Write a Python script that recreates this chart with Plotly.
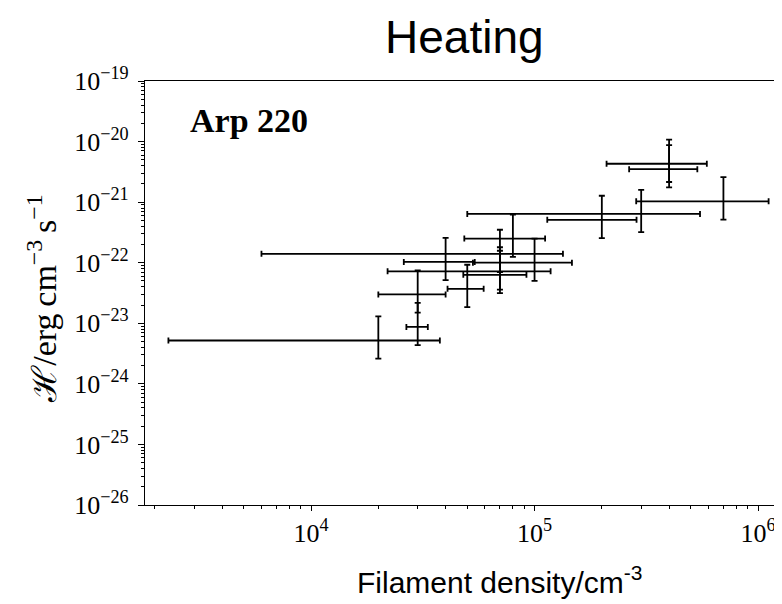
import plotly.graph_objects as go

# ---- data ----
density = [2e4, 3e4, 3e4, 4e4, 5e4, 7e4, 7e4, 7e4, 8e4, 1e5, 2e5, 3e5, 4e5, 4e5, 7e5]
heating = [5.2e-24, 3.0e-23, 8.7e-24, 1.03e-22, 3.7e-23, 1.4e-22, 7.2e-23, 6.3e-23,
           2.5e-22, 1.0e-22, 5.1e-22, 6.4e-22, 4.3e-21, 3.5e-21, 1.03e-21]
density_err = [1.77e4, 1.0e4, 3.3e3, 1.4e4, 9.2e3, 6.4e4, 4.8e4, 2.2e4, 3.15e4,
               4.7e4, 8.6e4, 2.5e5, 1.9e5, 1.35e5, 4.15e5]
heating_err_plus = [7.8e-24, 4.5e-23, 1.3e-23, 1.55e-22, 5.55e-23, 2.1e-22, 1.08e-22,
                    9.45e-23, 3.75e-22, 1.5e-22, 7.65e-22, 9.6e-22, 6.45e-21, 5.25e-21, 1.55e-21]
heating_err_minus = [2.6e-24, 1.5e-23, 4.35e-24, 5.15e-23, 1.85e-23, 7e-23, 3.6e-23,
                     3.15e-23, 1.25e-22, 5e-23, 2.55e-22, 3.2e-22, 2.15e-21, 1.75e-21, 5.15e-22]

x_tick_exp = [4, 5, 6]
y_tick_exp = [-26, -25, -24, -23, -22, -21, -20, -19]

title_text = "Heating"
x_title = "Filament density/cm<sup>-3</sup>"
y_title = "ℋ/erg\u2009cm<sup>−3</sup>\u2009s<sup>−1</sup>"
panel_label = "<b>Arp 220</b>"

# ---- figure ----
fig = go.Figure()
fig.add_trace(go.Scatter(
    x=density, y=heating, mode="markers",
    marker=dict(size=2, color="rgba(0,0,0,0)"),
    error_x=dict(type="data", symmetric=True, array=density_err,
                 color="black", thickness=1.8, width=3),
    error_y=dict(type="data", symmetric=False, array=heating_err_plus,
                 arrayminus=heating_err_minus, color="black", thickness=1.8, width=3),
    hoverinfo="skip",
))

serif = "Liberation Serif, DejaVu Serif, serif"
sans = "Liberation Sans, Arial, sans-serif"

x_minor = [m * 10 ** e for e in range(3, 7) for m in range(2, 10)]
y_minor = [m * 10.0 ** e for e in range(-26, -19) for m in range(2, 10)]

fig.update_layout(
    width=782, height=604,
    margin=dict(l=137, r=0, t=73, b=107),
    paper_bgcolor="white", plot_bgcolor="white",
    showlegend=False,
    xaxis=dict(
        type="log", range=[3.257, 6.143],
        showgrid=False, zeroline=False,
        showline=True, linecolor="black", linewidth=1.2, mirror=True,
        ticks="outside", ticklen=5, tickwidth=1, tickcolor="black",
        tickvals=[10 ** e for e in x_tick_exp],
        ticktext=[f"10<sup>{e}</sup>" for e in x_tick_exp],
        tickfont=dict(family=serif, size=26, color="black"),
        minor=dict(ticks="outside", ticklen=3, tickwidth=1, tickcolor="black",
                   tickvals=x_minor, showgrid=False),
    ),
    yaxis=dict(
        type="log", range=[-26, -19],
        showgrid=False, zeroline=False,
        showline=True, linecolor="black", linewidth=1.2,
        ticks="outside", ticklen=6, tickwidth=1, tickcolor="black",
        ticklabelstandoff=4,
        tickvals=[10.0 ** e for e in y_tick_exp],
        ticktext=[f"10<sup>−{abs(e)}</sup>" for e in y_tick_exp],
        tickfont=dict(family=serif, size=26, color="black"),
        minor=dict(ticks="outside", ticklen=3, tickwidth=1, tickcolor="black",
                   tickvals=y_minor, showgrid=False),
    ),
)

fig.add_annotation(text=title_text, xref="paper", yref="paper",
                   x=0.496, y=1.104, xanchor="center", yanchor="middle",
                   showarrow=False, font=dict(family=sans, size=46, color="black"))
fig.add_annotation(text=x_title, xref="paper", yref="paper",
                   x=0.55, y=-0.177, xanchor="center", yanchor="middle",
                   showarrow=False, font=dict(family=sans, size=30, color="black"))
fig.add_annotation(text=y_title, xref="paper", yref="paper",
                   x=-0.16, y=0.486, xanchor="center", yanchor="middle",
                   textangle=-90, showarrow=False,
                   font=dict(family=serif, size=34, color="black"))
fig.add_annotation(text=panel_label, xref="paper", yref="paper",
                   x=0.0667, y=0.908, xanchor="left", yanchor="middle",
                   showarrow=False, font=dict(family=serif, size=34, color="black"))

fig.write_html("out.html")
